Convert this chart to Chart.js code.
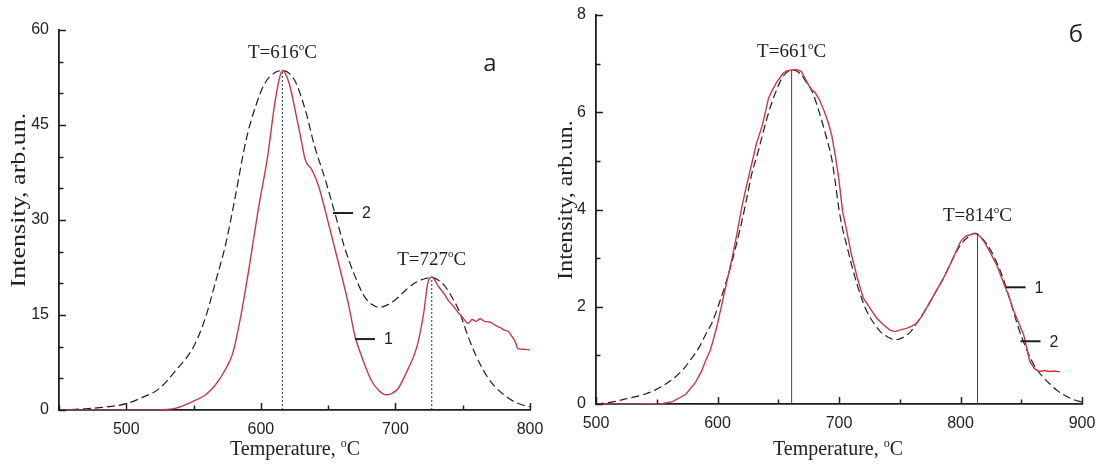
<!DOCTYPE html>
<html><head><meta charset="utf-8">
<script src="https://cdn.jsdelivr.net/npm/chart.js@4.4.0/dist/chart.umd.min.js"></script>
<style>
html,body{margin:0;padding:0;background:#fff;}
#wrap{position:relative;width:1103px;height:472px;overflow:hidden;background:#fff;}
#c1{position:absolute;left:0;top:0;}
#c2{position:absolute;left:550px;top:0;}
</style></head><body>
<div id="wrap"><canvas id="c1" width="550" height="472"></canvas><canvas id="c2" width="553" height="472"></canvas></div>
<script>
// ---------- Panel a ----------
const aXTicks = [450, 800, 50];          // min, max, step
const aYTicks = [0, 60, 5];
const aXLabelEvery = 100, aYLabelEvery = 15;
// curve 1 (measured, red)
const aT1 = [450,480,510,525,537,549,559,566,572,579,585,591,598,605,610,613,616,621,626,630,633,638,643,649,654,659,665,670,675,682,688,693,697,702,709,716,721,724,727,732,736,739,743,747,750,754,757,760,763,766,770,774,778,781,784,786,789,791,795,800];
const aI1 = [0,0,0,0.05,0.3,1.3,2.4,3.9,5.8,8.9,14.7,22.1,31.6,40,47.9,51.6,53.6,51.6,46.8,42.6,39.5,37.9,35.3,30.5,26.3,22.1,16.8,11.6,8.4,4.7,3.0,2.4,2.6,3.4,6.3,10,15.3,20,21.0,19.5,18.4,17.4,16.4,15.3,14.6,13.7,14.3,14.0,14.4,14.0,13.9,13.4,13.0,12.6,12.4,11.8,10.8,9.7,9.6,9.5];
// curve 2 (fit, dashed)
const aT2 = [450,470,490,500,512,524,537,550,559,566,574,581,589,596,603,610,616,625,633,640,648,655,662,670,677,683,688,694,700,706,712,720,727,732,737,742,747,754,759,764,769,774,780,786,793,800];
const aI2 = [0,0.2,0.6,1.0,2.0,3.3,6.3,10.0,14.7,20,26.3,33.7,42.6,47.9,51.6,53.2,53.6,52.1,47.4,41.6,36.3,31.1,25.8,21.1,17.9,16.6,16.2,16.6,17.4,18.6,19.7,20.6,20.9,20.5,19.5,17.8,15.8,11.6,9.0,6.8,5.0,3.7,2.5,1.6,0.9,0.5];
const aPeakT = [616, 727];
const aPeakI = [53.6, 20.9];
const aMarkNames = ['2', '1'];
const aMarkT = [653.6, 669.9];
const aMarkI = [31.1, 11.2];

// ---------- Panel б ----------
const bXTicks = [500, 900, 50];
const bYTicks = [0, 8, 1];
const bXLabelEvery = 100, bYLabelEvery = 2;
const bT1 = [500,530,555,563,574,582,587,590,594,597,600,604,608,612,616,620,624,628,632,637,642,645,649,654,657,661,665,669,672,675,678,680,684,688,691,694,697,700,703,706,710,715,720,726,731,737,742,746,750,756,760,764,768,772,779,786,793,800,804,808,812,816,820,824,830,835,840,843,847,852,855,857,861,865,869,873,877,882];
const bI1 = [0,0,0.01,0.05,0.2,0.45,0.68,0.88,1.1,1.36,1.65,2.1,2.55,3.0,3.5,4.05,4.5,4.92,5.35,5.74,6.29,6.45,6.63,6.8,6.85,6.87,6.88,6.84,6.7,6.56,6.45,6.42,6.25,6.01,5.8,5.53,5.1,4.6,3.95,3.6,3.1,2.6,2.18,1.95,1.77,1.62,1.52,1.49,1.52,1.56,1.6,1.66,1.8,1.97,2.28,2.59,2.95,3.34,3.45,3.48,3.51,3.45,3.32,3.14,2.85,2.52,2.2,1.97,1.72,1.42,1.1,0.88,0.72,0.67,0.69,0.67,0.68,0.66];
const bT2 = [500,515,527,540,549,558,566,573,579,585,590,596,601,607,612,616,620,624,628,633,637,641,645,649,653,657,661,665,669,673,678,682,686,690,694,697,700,703,707,711,715,719,723,729,734,740,746,752,759,765,772,779,786,793,800,806,812,818,824,830,835,841,846,850,854,858,862,868,874,880,887,893,900];
const bI2 = [0,0.05,0.12,0.2,0.29,0.42,0.57,0.75,0.95,1.17,1.42,1.7,2.04,2.5,2.93,3.33,3.75,4.22,4.71,5.15,5.53,5.9,6.22,6.48,6.7,6.82,6.87,6.85,6.77,6.62,6.42,6.14,5.81,5.45,5.05,4.55,4.0,3.6,3.2,2.8,2.45,2.15,1.9,1.65,1.49,1.38,1.32,1.36,1.49,1.7,1.97,2.28,2.59,2.95,3.27,3.43,3.51,3.4,3.2,2.9,2.59,2.12,1.7,1.4,1.15,0.92,0.74,0.55,0.4,0.27,0.16,0.09,0.04];
const bPeakT = [661, 814];
const bPeakI = [6.87, 3.51];
const bMarkNames = ['1', '2'];
const bMarkT = [837.1, 849.4];
const bMarkI = [2.40, 1.29];

const xTitle = ['Temperature, ', 'o', 'C'];
const yTitle = 'Intensity, arb.un.';

const RED = '#c73a44', INK = '#1e1e1e';
const SERIF = '"Liberation Serif","Times New Roman",serif';
const SANS = '"Liberation Sans",Arial,sans-serif';

function pts(xs, ys){ return xs.map((x,i)=>({x:x, y:ys[i]})); }

function richWidth(ctx, parts, size){
  let w = 0;
  parts.forEach(p=>{ ctx.font = (p.sup? Math.round(size*0.6) : size) + 'px ' + SERIF; w += ctx.measureText(p.t).width; });
  return w;
}
function drawRich(ctx, parts, x, y, size, align){
  const w = richWidth(ctx, parts, size);
  let cx = align==='center' ? x - w/2 : x;
  ctx.textAlign = 'left'; ctx.textBaseline = 'alphabetic';
  parts.forEach(p=>{
    const s = p.sup ? Math.round(size*0.6) : size;
    ctx.font = s + 'px ' + SERIF;
    ctx.fillText(p.t, cx, p.sup ? y - size*0.42 : y);
    cx += ctx.measureText(p.t).width;
  });
}

function annoPlugin(opt){
  return {
    id: 'anno',
    afterDraw(chart){
      const ctx = chart.ctx, xs = chart.scales.x, ys = chart.scales.y, ca = chart.chartArea;
      ctx.save();
      // inward tick marks from the library's own ticks
      ctx.strokeStyle = INK; ctx.lineWidth = 1.5;
      xs.ticks.forEach(t=>{
        const px = Math.round(xs.getPixelForValue(t.value)) + 0.5;
        const len = (t.value % opt.xEvery === 0) ? 7 : 4.5;
        ctx.beginPath(); ctx.moveTo(px, ca.bottom); ctx.lineTo(px, ca.bottom - len); ctx.stroke();
      });
      ys.ticks.forEach(t=>{
        const py = Math.round(ys.getPixelForValue(t.value)) + 0.5;
        const len = (Math.abs(t.value % opt.yEvery) < 1e-9) ? 7 : 4.5;
        ctx.beginPath(); ctx.moveTo(ca.left, py); ctx.lineTo(ca.left + len, py); ctx.stroke();
      });
      ctx.fillStyle = INK;
      // peak labels
      opt.peakT.forEach((t,i)=>{
        const px = xs.getPixelForValue(t), py = ys.getPixelForValue(opt.peakI[i]);
        drawRich(ctx, [{t:'T='+t},{t:'o',sup:true},{t:'C'}], px, py - 12.5, 19, 'center');
      });
      // curve markers
      ctx.strokeStyle = INK; ctx.lineWidth = 2;
      opt.markNames.forEach((n,i)=>{
        const px = xs.getPixelForValue(opt.markT[i]), py = ys.getPixelForValue(opt.markI[i]);
        ctx.beginPath(); ctx.moveTo(px, py); ctx.lineTo(px+20, py); ctx.stroke();
        ctx.font = '16px ' + SANS; ctx.textAlign = 'left'; ctx.textBaseline = 'middle';
        ctx.fillText(n, px+29, py+1);
      });
      // panel letter
      ctx.font = '24px "Open Sans",sans-serif'; ctx.textAlign='center'; ctx.textBaseline='middle';
      ctx.fillText(opt.letter, opt.letterX, opt.letterY);
      // axis titles
      ctx.fillStyle = '#222';
      const parts = [{t:xTitle[0]},{t:xTitle[1],sup:true},{t:xTitle[2]}];
      drawRich(ctx, parts, opt.xTitleX, opt.xTitleY, 20, 'center');
      ctx.save();
      ctx.translate(opt.yTitleX, opt.yTitleY);
      ctx.rotate(-Math.PI/2);
      ctx.scale(opt.yTitleStretch, 1);
      ctx.font = '21px ' + SERIF; ctx.textAlign='center'; ctx.textBaseline='middle';
      ctx.fillText(yTitle, 0, 0);
      ctx.restore();
      ctx.restore();
    }
  };
}

function makeChart(id, cfg){
  const tickFont = {family: SANS, size: 16};
  return new Chart(document.getElementById(id), {
    type: 'line',
    data: { datasets: [
      { data: pts(cfg.T2, cfg.I2), borderColor: INK, borderWidth: 1.2, borderDash: [8,4], pointRadius: 0, cubicInterpolationMode: 'monotone', order: 2 },
      { data: pts(cfg.T1, cfg.I1), borderColor: RED, borderWidth: 1.4, pointRadius: 0, cubicInterpolationMode: cfg.redSmooth ? 'monotone' : 'default', tension: 0, order: 1 },
      { data: [{x:cfg.peakT[0], y:0},{x:cfg.peakT[0], y:cfg.peakI[0]}], borderColor: cfg.vColor, borderWidth: 1, borderDash: cfg.vDash, pointRadius: 0, order: 3 },
      { data: [{x:cfg.peakT[1], y:0},{x:cfg.peakT[1], y:cfg.peakI[1]}], borderColor: cfg.vColor, borderWidth: 1, borderDash: cfg.vDash, pointRadius: 0, order: 3 }
    ]},
    options: {
      responsive: false, animation: false, devicePixelRatio: 1,
      layout: { padding: cfg.pad },
      plugins: { legend: {display:false}, tooltip: {enabled:false}, title:{display:false} },
      scales: {
        x: { type: 'linear', min: cfg.xt[0], max: cfg.xt[1],
             afterFit: s => { s.height = cfg.xH; s.paddingLeft = 0; s.paddingRight = 0; },
             ticks: { stepSize: cfg.xt[2], autoSkip: false, maxRotation: 0, padding: 10, color: INK, font: tickFont,
                      callback: v => (v % cfg.xEvery === 0 ? String(v) : '') },
             grid: { drawOnChartArea: false, drawTicks: false },
             border: { display: true, color: INK, width: 1.8 } },
        y: { type: 'linear', min: cfg.yt[0], max: cfg.yt[1],
             afterFit: s => { s.width = cfg.yW; s.paddingTop = 0; s.paddingBottom = 0; },
             ticks: { stepSize: cfg.yt[2], autoSkip: false, padding: 10, color: INK, font: tickFont,
                      callback: v => (Math.abs(v % cfg.yEvery) < 1e-9 ? String(v) : '') },
             grid: { drawOnChartArea: false, drawTicks: false },
             border: { display: true, color: INK, width: 1.8 } }
      }
    },
    plugins: [annoPlugin(cfg)]
  });
}

makeChart('c1', {
  T1:aT1, I1:aI1, T2:aT2, I2:aI2, peakT:aPeakT, peakI:aPeakI,
  markNames:aMarkNames, markT:aMarkT, markI:aMarkI,
  xt:aXTicks, yt:aYTicks, xEvery:aXLabelEvery, yEvery:aYLabelEvery,
  vColor:'#333', vDash:[2,2], redSmooth:true,
  pad:{left:0, right:20, top:30, bottom:0}, xH:62, yW:59,
  letter:'а', letterX:490, letterY:64,
  xTitleX:295, xTitleY:455, yTitleX:19, yTitleY:200, yTitleStretch:1.24
});
makeChart('c2', {
  T1:bT1, I1:bI1, T2:bT2, I2:bI2, peakT:bPeakT, peakI:bPeakI,
  markNames:bMarkNames, markT:bMarkT, markI:bMarkI,
  xt:bXTicks, yt:bYTicks, xEvery:bXLabelEvery, yEvery:bYLabelEvery,
  vColor:'#444', vDash:[], redSmooth:false,
  pad:{left:0, right:21, top:15, bottom:0}, xH:68, yW:46,
  letter:'б', letterX:526, letterY:35,
  xTitleX:288, xTitleY:455, yTitleX:16, yTitleY:200, yTitleStretch:1.13
});
</script>
</body></html>
